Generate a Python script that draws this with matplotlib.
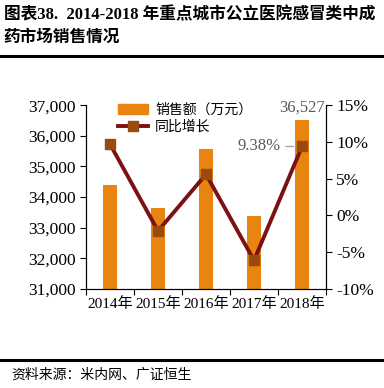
import matplotlib.pyplot as plt
from matplotlib.lines import Line2D
from matplotlib.patches import Patch
import numpy as np

plt.rcParams['font.family'] = ['Liberation Serif', 'Noto Sans CJK SC']

years = ['2014年', '2015年', '2016年', '2017年', '2018年']
sales = [34380, 33660, 35570, 33390, 36527]
growth = [9.7, -2.1, 5.6, -6.1, 9.38]

bar_color = '#E8840F'
line_color = '#7B1113'
marker_color = '#9A4A0C'

fig = plt.figure(figsize=(3.84, 3.88), dpi=100)
ax = fig.add_axes([0.224, 0.255, 0.625, 0.474])
ax2 = ax.twinx()

x = np.arange(len(years))
ax.bar(x, sales, width=0.31, color=bar_color, zorder=2)
ax.set_ylim(31000, 37000)
ax.set_xlim(-0.5, 4.5)
ax.set_yticks(range(31000, 37001, 1000))
ax.set_yticklabels([f'{v:,}' for v in range(31000, 37001, 1000)])
ax.set_xticks(np.arange(-0.5, 5, 1), minor=False)
ax.set_xticklabels([])
ax.set_xticks(x, minor=True)
ax.set_xticklabels(years, minor=True)
ax.tick_params(axis='x', which='minor', length=0, labelsize=11, pad=6)
ax.tick_params(axis='x', which='major', length=4, direction='out')
ax.tick_params(axis='y', labelsize=12.5, length=4, direction='out')

ax2.plot(x, growth, color=line_color, lw=2.8, marker='s', ms=7,
         mfc=marker_color, mec=marker_color, zorder=3)
ax2.set_ylim(-10, 15)
ax2.set_yticks(range(-10, 16, 5))
ax2.set_yticklabels([f'{v}%' for v in range(-10, 16, 5)])
ax2.tick_params(axis='y', labelsize=12.5, length=4, direction='out')

for a in (ax, ax2):
    a.spines['top'].set_visible(False)

ax.text(x[-1], sales[-1] + 120, f'{sales[-1]:,}', ha='center', va='bottom',
        fontsize=12, color='#595959')
ax2.annotate(f'{growth[-1]:.2f}%', xy=(x[-1] - 0.12, growth[-1]),
             xytext=(x[-1] - 0.45, growth[-1]), ha='right', va='center',
             fontsize=12, color='#595959',
             arrowprops=dict(arrowstyle='-', color='#A6A6A6', lw=1))

handles = [Patch(color=bar_color, label='销售额（万元）'),
           Line2D([0], [0], color=line_color, lw=2.8, marker='s', ms=7,
                  mfc=marker_color, mec=marker_color, label='同比增长')]
ax.legend(handles=handles, loc='upper left', bbox_to_anchor=(0.08, 1.08),
          frameon=False, prop={'family': 'Noto Sans CJK SC', 'size': 10},
          handlelength=2.2, handletextpad=0.5, labelspacing=0.2)

fig.text(0.01, 0.962, '图表38.  2014-2018 年重点城市公立医院感冒类中成', fontsize=12,
         fontweight='bold', va='center', ha='left')
fig.text(0.01, 0.905, '药市场销售情况', fontsize=12, fontweight='bold',
         va='center', ha='left', family='Noto Sans CJK SC')
fig.add_artist(Line2D([0, 1], [0.855, 0.855], color='black', lw=2.2))
fig.add_artist(Line2D([0, 1], [0.072, 0.072], color='black', lw=2.2))
fig.text(0.03, 0.035, '资料来源：米内网、广证恒生', fontsize=10,
         va='center', ha='left', family='Noto Sans CJK SC')

fig.savefig('out.png', dpi=100)
